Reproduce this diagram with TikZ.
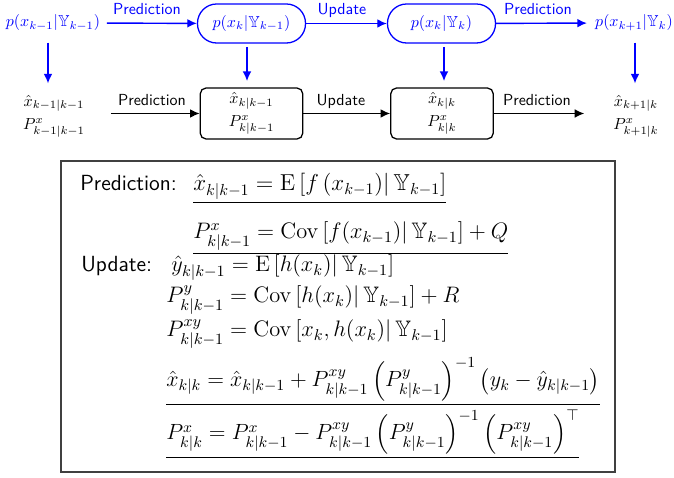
\RequirePackage{fix-cm}
\documentclass[tikz,border=0pt]{standalone}
\usepackage{amsmath,amssymb}
\usetikzlibrary{arrows.meta}
\newcommand{\eqsize}{\fontsize{14.0}{16.5}\selectfont}
\newcommand{\eqsizeA}{\fontsize{14.4}{17}\selectfont}
\newcommand{\eqsizeB}{\fontsize{13.75}{16.5}\selectfont}
\newcommand{\hdsize}{\fontsize{13.7}{16}\selectfont}
\begin{document}
\begin{tikzpicture}[x=0.625pt,y=-0.625pt,
  lbl/.style={font=\sffamily, inner sep=0pt, anchor=base},
  bluetxt/.style={text=blue, inner sep=2pt},
  pill/.style={draw=blue, text=blue, line width=0.8pt, rounded corners=12pt, minimum width=67.5pt, minimum height=24.4pt, inner sep=1pt},
  stack/.style={align=center, inner sep=1pt},
  sbox/.style={draw=black, line width=0.8pt, rounded corners=3.5pt, minimum width=64pt, minimum height=31.8pt, align=center, inner sep=1pt},
  barrow/.style={draw=blue, line width=0.9pt, -{Latex[length=6pt,width=5.5pt]}},
  karrow/.style={draw=black, line width=0.9pt, -{Latex[length=6pt,width=5.5pt]}},
  eq/.style={anchor=base west, inner sep=0pt, font=\eqsize},
  hd/.style={anchor=base west, inner sep=0pt, font=\hdsize\sffamily},
]
\useasboundingbox (0,0) rectangle (674,478);

% top row
\node[bluetxt] (p0) at (53,23) {$p(x_{k-1}|\mathbb{Y}_{k-1})$};
\node[pill] (p1) at (251.5,23.5) {$p(x_k|\mathbb{Y}_{k-1})$};
\node[pill] (p2) at (441.5,23.5) {$p(x_k|\mathbb{Y}_k)$};
\node[bluetxt] (p3) at (634,23) {$p(x_{k+1}|\mathbb{Y}_k)$};

\draw[barrow, shorten <=2pt] (p0) -- (p1);
\draw[barrow] (p1) -- (p2);
\draw[barrow, shorten >=3pt] (p2) -- (p3);
\node[lbl, text=blue] (t1) at (147,15) {Prediction};
\node[lbl, text=blue] (t2) at (342,15) {Update};
\node[lbl, text=blue] (t3) at (538,15) {Prediction};

% second row
\node[stack] (x0) at (54,116) {$\hat{x}_{k-1|k-1}$\\[2.4pt]$P^x_{k-1|k-1}$};
\node[sbox] (b1) at (251.5,113.5) {$\hat{x}_{k|k-1}$\\[2.4pt]$P^x_{k|k-1}$};
\node[sbox] (b2) at (442,113.5) {$\hat{x}_{k|k}$\\[2.4pt]$P^x_{k|k}$};
\node[stack] (x3) at (636,116) {$\hat{x}_{k+1|k}$\\[2.4pt]$P^x_{k+1|k}$};

\draw[karrow, shorten <=15pt] (x0.east |- b1) -- (b1);
\draw[karrow] (b1) -- (b2);
\draw[karrow, shorten >=17pt] (b2) -- (x3.west |- b2);
\node[lbl] (u1) at (152,106) {Prediction};
\node[lbl] (u2) at (341,106) {Update};
\node[lbl] (u3) at (537,106) {Prediction};

% vertical arrows
\draw[barrow, shorten <=5pt, shorten >=6pt] (p0.south -| 48,0) -- (x0.north -| 48,0);
\draw[barrow, shorten <=2pt, shorten >=4pt] (p1.south -| 247,0) -- (b1.north -| 247,0);
\draw[barrow, shorten <=2pt, shorten >=4pt] (p2.south -| 444,0) -- (b2.north -| 444,0);
\draw[barrow, shorten <=5pt, shorten >=6pt] (p3.south -| 635,0) -- (x3.north -| 635,0);

% big box
\draw[line width=1.2pt, draw=black!75] (61,161) rectangle (615,472);
\node[hd] (hp) at (80,191) {Prediction:};
\node[hd] (hu) at (81,272) {Update:};
\node[eq, font=\eqsizeA] (e1) at (193,191) {$\underline{\hat{x}_{k|k-1} = \mathrm{E}\left[f\left(x_{k-1}\right)\middle|\,\mathbb{Y}_{k-1}\right]}$};
\node[eq] (e2) at (193,239) {$\underline{P^x_{k|k-1} = \mathrm{Cov}\left[f(x_{k-1})\middle|\,\mathbb{Y}_{k-1}\right] + Q}$};
\node[eq] (e3) at (171,272) {$\hat{y}_{k|k-1} = \mathrm{E}\left[h(x_k)\middle|\,\mathbb{Y}_{k-1}\right]$};
\node[eq] (e4) at (166,303) {$P^y_{k|k-1} = \mathrm{Cov}\left[h(x_k)\middle|\,\mathbb{Y}_{k-1}\right] + R$};
\node[eq] (e5) at (166,337) {$P^{xy}_{k|k-1} = \mathrm{Cov}\left[x_k, h(x_k)\middle|\,\mathbb{Y}_{k-1}\right]$};
\node[eq, font=\eqsizeB] (e6) at (166,387) {$\underline{\hat{x}_{k|k} = \hat{x}_{k|k-1} + P^{xy}_{k|k-1}\left(P^y_{k|k-1}\right)^{-1}\left(y_k - \hat{y}_{k|k-1}\right)}$};
\node[eq, font=\eqsizeB] (e7) at (166,440) {$\underline{P^x_{k|k} = P^x_{k|k-1} - P^{xy}_{k|k-1}\left(P^y_{k|k-1}\right)^{-1}\left(P^{xy}_{k|k-1}\right)^{\top}}$};
\end{tikzpicture}
\end{document}
